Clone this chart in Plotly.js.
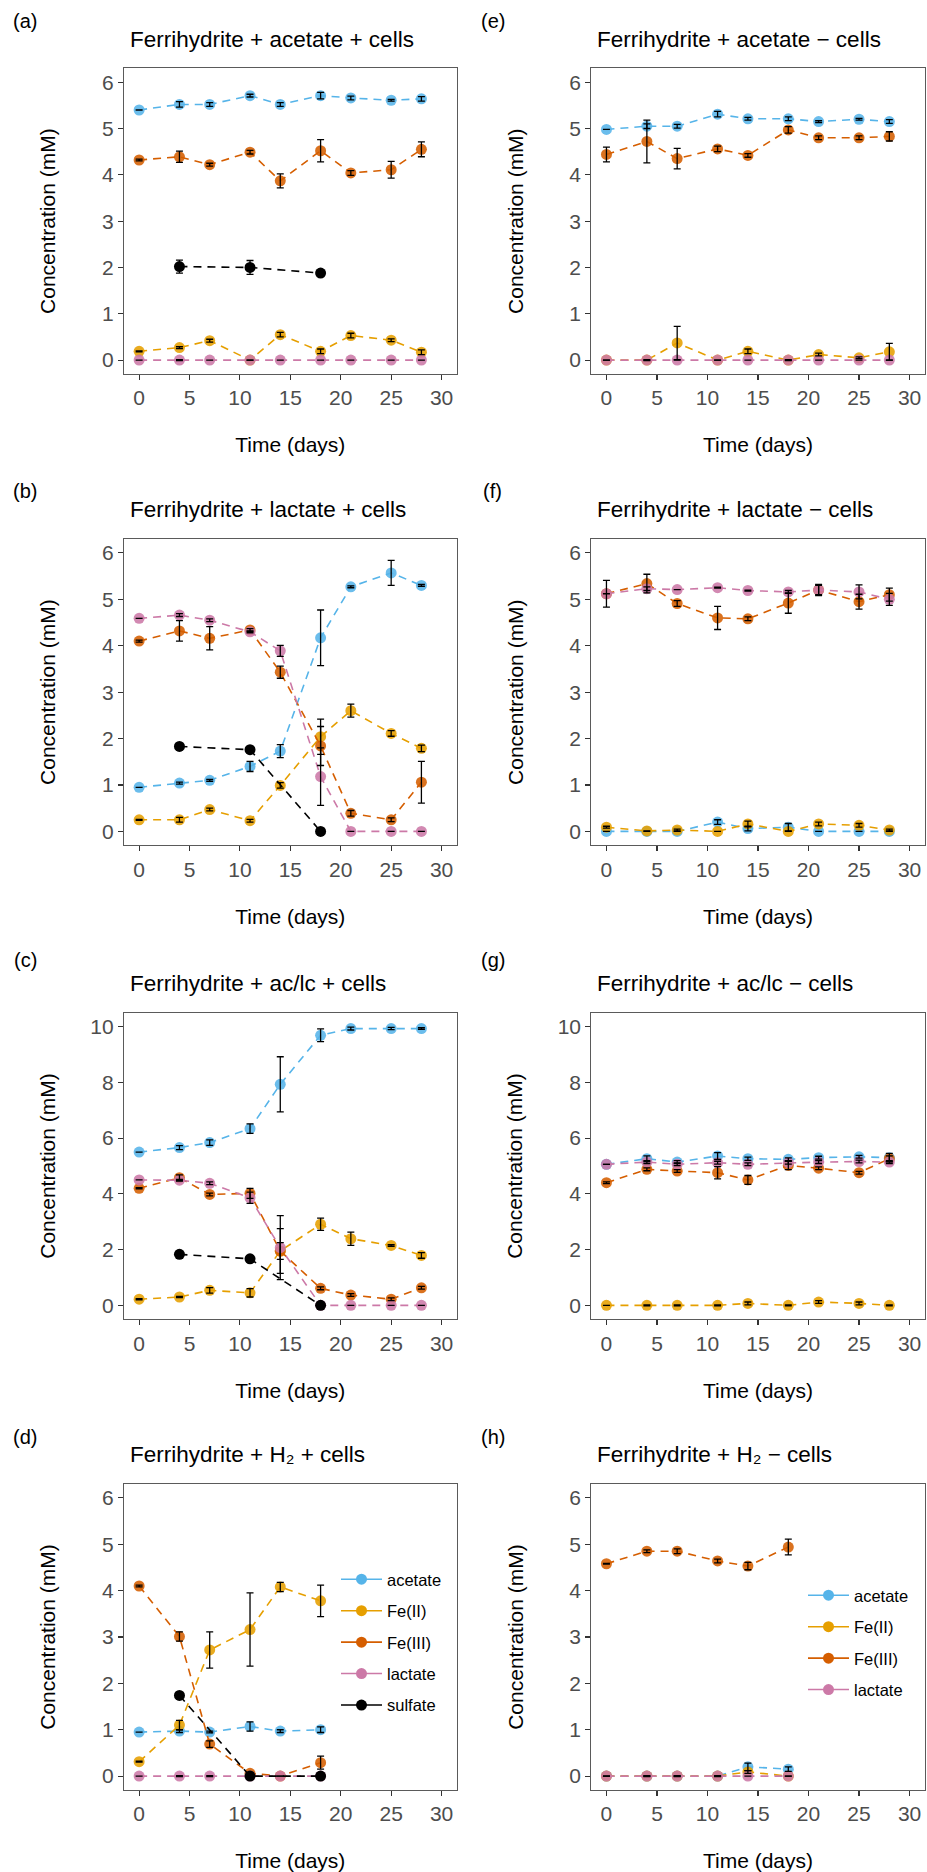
<!DOCTYPE html>
<html><head><meta charset="utf-8">
<script src="https://cdn.plot.ly/plotly-3.0.1.min.js"></script>
<style>body{margin:0;background:#fff}</style>
</head><body><div id="chart" style="width:927px;height:1872px"></div>
<script>
// ---------- data ----------
const days = [0, 4, 7, 11, 14, 18, 21, 25, 28];
const daysH2 = [0, 4, 7, 11, 14, 18];
const daysSulfate = [4, 11, 18];
const speciesNames = ["acetate", "Fe(II)", "Fe(III)", "lactate", "sulfate"];

// (a) Ferrihydrite + acetate + cells
const a_acetate = [5.40, 5.52, 5.52, 5.71, 5.52, 5.71, 5.66, 5.61, 5.64];
const a_acetate_err = [null, 0.06, 0.04, 0.03, 0.04, 0.07, 0.04, 0.02, 0.05];
const a_fe2 = [0.19, 0.27, 0.42, 0.00, 0.55, 0.19, 0.53, 0.43, 0.17];
const a_fe2_err = [0.01, 0.02, 0.03, null, 0.05, 0.05, 0.05, 0.03, 0.05];
const a_fe3 = [4.32, 4.39, 4.22, 4.49, 3.87, 4.52, 4.04, 4.11, 4.55];
const a_fe3_err = [0.02, 0.12, 0.03, 0.04, 0.15, 0.24, 0.05, 0.18, 0.16];
const a_lactate = [0, 0, 0, 0, 0, 0, 0, 0, 0];
const a_lactate_err = [null, 0.01, null, null, null, null, null, null, null];
const a_sulfate = [2.02, 2.00, 1.88];
const a_sulfate_err = [0.14, 0.15, null];

// (b) Ferrihydrite + lactate + cells
const b_acetate = [0.95, 1.04, 1.10, 1.40, 1.73, 4.17, 5.27, 5.57, 5.30];
const b_acetate_err = [null, 0.02, 0.02, 0.11, 0.14, 0.60, 0.02, 0.27, 0.02];
const b_fe2 = [0.25, 0.25, 0.47, 0.23, 0.99, 2.04, 2.60, 2.11, 1.79];
const b_fe2_err = [0.01, 0.05, 0.03, 0.03, 0.06, 0.38, 0.14, 0.06, 0.07];
const b_fe3 = [4.10, 4.32, 4.16, 4.34, 3.43, 1.84, 0.39, 0.25, 1.06];
const b_fe3_err = [0.02, 0.22, 0.25, 0.03, 0.13, 0.42, 0.06, 0.04, 0.45];
const b_lactate = [4.59, 4.66, 4.55, 4.30, 3.89, 1.18, 0, 0, 0];
const b_lactate_err = [null, 0.03, 0.03, 0.02, 0.12, 0.62, null, null, null];
const b_sulfate = [1.83, 1.76, 0];
const b_sulfate_err = [null, null, null];

// (c) Ferrihydrite + ac/lc + cells
const c_acetate = [5.50, 5.66, 5.84, 6.34, 7.93, 9.69, 9.93, 9.93, 9.93];
const c_acetate_err = [null, 0.07, 0.10, 0.17, 0.99, 0.23, 0.05, 0.04, 0.03];
const c_fe2 = [0.22, 0.30, 0.54, 0.45, 1.95, 2.91, 2.39, 2.15, 1.79];
const c_fe2_err = [0.02, 0.02, 0.10, 0.15, 0.30, 0.22, 0.24, 0.03, 0.10];
const c_fe3 = [4.20, 4.58, 3.98, 4.02, 1.95, 0.61, 0.37, 0.22, 0.63];
const c_fe3_err = [0.02, 0.10, 0.05, 0.18, 0.80, 0.05, 0.05, 0.05, 0.05];
const c_lactate = [4.50, 4.49, 4.38, 3.86, 2.07, 0, 0, 0, 0];
const c_lactate_err = [null, 0.03, 0.05, 0.20, 1.15, null, null, null, null];
const c_sulfate = [1.83, 1.67, 0];
const c_sulfate_err = [null, null, null];

// (d) Ferrihydrite + H2 + cells
const d_acetate = [0.95, 0.97, 0.95, 1.07, 0.97, 1.00];
const d_acetate_err = [null, 0.03, 0.02, 0.10, 0.03, 0.06];
const d_fe2 = [0.31, 1.10, 2.72, 3.16, 4.08, 3.78];
const d_fe2_err = [0.01, 0.10, 0.39, 0.79, 0.10, 0.34];
const d_fe3 = [4.10, 3.01, 0.69, 0.06, 0, 0.29];
const d_fe3_err = [0.02, 0.10, 0.07, 0.02, null, 0.14];
const d_lactate = [0, 0, 0, 0, 0, 0];
const d_lactate_err = [null, 0.01, 0.01, null, null, null];
const d_sulfate = [1.74, 0, 0];
const d_sulfate_err = [null, null, null];

// (e) Ferrihydrite + acetate - cells
const e_acetate = [4.98, 5.05, 5.05, 5.31, 5.21, 5.21, 5.15, 5.20, 5.15];
const e_acetate_err = [null, 0.05, 0.04, 0.06, 0.03, 0.04, 0.02, 0.02, 0.04];
const e_fe2 = [0, 0, 0.37, 0, 0.19, 0, 0.12, 0.05, 0.18];
const e_fe2_err = [null, null, 0.36, null, 0.05, null, 0.03, 0.02, 0.18];
const e_fe3 = [4.44, 4.72, 4.35, 4.56, 4.42, 4.97, 4.80, 4.80, 4.83];
const e_fe3_err = [0.16, 0.46, 0.22, 0.06, 0.04, 0.07, 0.04, 0.04, 0.10];
const e_lactate = [0, 0, 0, 0, 0, 0, 0, 0, 0];
const e_lactate_err = [null, 0.01, null, null, null, 0.01, null, null, null];

// (f) Ferrihydrite + lactate - cells
const f_acetate = [0, 0, 0, 0.20, 0.06, 0.09, 0, 0, 0];
const f_acetate_err = [null, null, null, 0.05, 0.05, 0.08, null, null, null];
const f_fe2 = [0.09, 0.01, 0.03, 0, 0.16, 0, 0.16, 0.13, 0.03];
const f_fe2_err = [0.02, null, 0.02, null, 0.06, null, 0.04, 0.04, 0.02];
const f_fe3 = [5.12, 5.34, 4.91, 4.60, 4.58, 4.92, 5.20, 4.95, 5.10];
const f_fe3_err = [null, 0.20, 0.06, 0.25, 0.04, 0.22, 0.12, 0.16, 0.14];
const f_lactate = [5.12, 5.23, 5.21, 5.25, 5.19, 5.16, 5.20, 5.16, 5.00];
const f_lactate_err = [0.29, 0.04, null, 0.01, 0.01, 0.03, 0.10, 0.15, 0.13];

// (g) Ferrihydrite + ac/lc - cells
const g_acetate = [5.06, 5.26, 5.14, 5.36, 5.26, 5.24, 5.30, 5.33, 5.30];
const g_acetate_err = [null, 0.10, 0.05, 0.12, 0.06, 0.05, 0.05, 0.05, 0.15];
const g_fe2 = [0, 0, 0, 0, 0.07, 0, 0.12, 0.07, 0];
const g_fe2_err = [null, 0.02, 0.02, 0.02, 0.05, 0.02, 0.05, 0.05, 0.02];
const g_fe3 = [4.40, 4.88, 4.82, 4.76, 4.50, 5.02, 4.92, 4.76, 5.26];
const g_fe3_err = [0.03, 0.05, 0.05, 0.22, 0.16, 0.15, 0.05, 0.05, 0.10];
const g_lactate = [5.06, 5.14, 5.06, 5.12, 5.06, 5.12, 5.14, 5.16, 5.14];
const g_lactate_err = [null, 0.05, 0.05, 0.05, 0.05, 0.05, 0.05, 0.05, 0.05];

// (h) Ferrihydrite + H2 - cells
const h_acetate = [0, 0, 0, 0, 0.20, 0.15];
const h_acetate_err = [null, null, null, null, 0.08, 0.05];
const h_fe2 = [0, 0, 0, 0, 0.09, 0];
const h_fe2_err = [null, null, null, null, 0.03, null];
const h_fe3 = [4.58, 4.85, 4.85, 4.64, 4.53, 4.94];
const h_fe3_err = [0.01, 0.03, 0.05, 0.04, 0.08, 0.17];
const h_lactate = [0, 0, 0, 0, 0, 0];
const h_lactate_err = [null, 0.01, 0.01, 0.01, null, null];

const panelLabels = ["(a)", "(b)", "(c)", "(d)", "(e)", "(f)", "(g)", "(h)"];
const panelTitles = [
  "Ferrihydrite + acetate + cells",
  "Ferrihydrite + lactate + cells",
  "Ferrihydrite + ac/lc + cells",
  "Ferrihydrite + H\u2082 + cells",
  "Ferrihydrite + acetate \u2212 cells",
  "Ferrihydrite + lactate \u2212 cells",
  "Ferrihydrite + ac/lc \u2212 cells",
  "Ferrihydrite + H\u2082 \u2212 cells"
];
const xTitle = "Time (days)";
const yTitle = "Concentration (mM)";
const xTicks = [0, 5, 10, 15, 20, 25, 30];

// ---------- styling ----------
const colors = {"acetate": "#56B4E9", "Fe(II)": "#E69F00", "Fe(III)": "#D55E00", "lactate": "#CC79A7", "sulfate": "#000000"};
const FONT = "Liberation Sans, Arial, Helvetica, sans-serif";
const W = 927, H = 1872;

// panel geometry in pixels: [left, right, top, bottom]
const colX = [[124, 456.7], [591.3, 924.7]];
const rowY = [[68.3, 374], [539, 845.3], [1012.7, 1319.3], [1484, 1790]];

const panels = [
  {x: days, s: [["acetate", a_acetate, a_acetate_err], ["Fe(II)", a_fe2, a_fe2_err], ["Fe(III)", a_fe3, a_fe3_err], ["lactate", a_lactate, a_lactate_err]], sul: [a_sulfate, a_sulfate_err], ymax: 6},
  {x: days, s: [["acetate", b_acetate, b_acetate_err], ["Fe(II)", b_fe2, b_fe2_err], ["Fe(III)", b_fe3, b_fe3_err], ["lactate", b_lactate, b_lactate_err]], sul: [b_sulfate, b_sulfate_err], ymax: 6},
  {x: days, s: [["acetate", c_acetate, c_acetate_err], ["Fe(II)", c_fe2, c_fe2_err], ["Fe(III)", c_fe3, c_fe3_err], ["lactate", c_lactate, c_lactate_err]], sul: [c_sulfate, c_sulfate_err], ymax: 10},
  {x: daysH2, s: [["acetate", d_acetate, d_acetate_err], ["Fe(II)", d_fe2, d_fe2_err], ["Fe(III)", d_fe3, d_fe3_err], ["lactate", d_lactate, d_lactate_err]], sul: [d_sulfate, d_sulfate_err], ymax: 6},
  {x: days, s: [["acetate", e_acetate, e_acetate_err], ["Fe(II)", e_fe2, e_fe2_err], ["Fe(III)", e_fe3, e_fe3_err], ["lactate", e_lactate, e_lactate_err]], sul: null, ymax: 6},
  {x: days, s: [["acetate", f_acetate, f_acetate_err], ["Fe(II)", f_fe2, f_fe2_err], ["Fe(III)", f_fe3, f_fe3_err], ["lactate", f_lactate, f_lactate_err]], sul: null, ymax: 6},
  {x: days, s: [["acetate", g_acetate, g_acetate_err], ["Fe(II)", g_fe2, g_fe2_err], ["Fe(III)", g_fe3, g_fe3_err], ["lactate", g_lactate, g_lactate_err]], sul: null, ymax: 10},
  {x: daysH2, s: [["acetate", h_acetate, h_acetate_err], ["Fe(II)", h_fe2, h_fe2_err], ["Fe(III)", h_fe3, h_fe3_err], ["lactate", h_lactate, h_lactate_err]], sul: null, ymax: 6}
];

const traces = [];
const layout = {
  width: W, height: H,
  margin: {l: 0, r: 0, t: 0, b: 0},
  paper_bgcolor: "#ffffff", plot_bgcolor: "#ffffff",
  font: {family: FONT, color: "#000"},
  showlegend: true,
  annotations: []
};

panels.forEach((p, i) => {
  const col = i < 4 ? 0 : 1;
  const row = i % 4;
  const [L, R] = colX[col];
  const [T, B] = rowY[row];
  const n = i + 1;
  const xa = "x" + (n === 1 ? "" : n), ya = "y" + (n === 1 ? "" : n);
  const xk = "xaxis" + (n === 1 ? "" : n), yk = "yaxis" + (n === 1 ? "" : n);
  const pad = p.ymax * 0.05;
  const axCommon = {
    showgrid: false, zeroline: false, showline: true, mirror: true,
    linecolor: "#5a5a5a", linewidth: 1.1,
    ticks: "outside", ticklen: 5, tickwidth: 1.1, tickcolor: "#333",
    tickfont: {family: FONT, size: 21, color: "#4d4d4d"},
    fixedrange: true
  };
  layout[xk] = Object.assign({}, axCommon, {
    domain: [L / W, R / W], anchor: ya, range: [-1.5, 31.5],
    tickmode: "array", tickvals: xTicks,
    title: {text: xTitle, font: {family: FONT, size: 21, color: "#000"}, standoff: 29}
  });
  layout[yk] = Object.assign({}, axCommon, {
    domain: [1 - B / H, 1 - T / H], anchor: xa, range: [-pad, p.ymax + pad],
    dtick: p.ymax === 10 ? 2 : 1, tick0: 0,
    title: {text: yTitle, font: {family: FONT, size: 21, color: "#000"}, standoff: p.ymax === 10 ? 29 : 40}
  });

  // series lines + markers
  const all = p.s.map(s => ({name: s[0], x: p.x, y: s[1], e: s[2]}));
  if (p.sul) all.push({name: "sulfate", x: daysSulfate, y: p.sul[0], e: p.sul[1]});
  all.forEach(s => {
    traces.push({
      type: "scatter", mode: "lines+markers", x: s.x, y: s.y, xaxis: xa, yaxis: ya,
      name: s.name, showlegend: false, hoverinfo: "skip",
      line: {color: colors[s.name], width: 1.6, dash: "8px,6px"},
      marker: {color: colors[s.name], size: 11, opacity: s.name === "sulfate" ? 1 : 0.88}
    });
  });
  // error bars on top
  all.forEach(s => {
    traces.push({
      type: "scatter", mode: "markers", x: s.x, y: s.y, xaxis: xa, yaxis: ya,
      name: s.name + " sd", showlegend: false, hoverinfo: "skip",
      marker: {size: 1, opacity: 0},
      error_y: {type: "data", array: s.e, visible: true, color: "#000", thickness: 1.3, width: 3.5}
    });
  });

  // panel label and title
  const lx = col === 0 ? 25 : 492.5;
  const labelY = [20.8, 490.5, 960.5, 1436.5][row];
  const titleY = [39.5, 509.5, 983.5, 1454.5][row];
  layout.annotations.push({
    text: panelLabels[i], xref: "paper", yref: "paper", x: lx / W, y: 1 - labelY / H,
    xanchor: "center", yanchor: "middle", showarrow: false,
    font: {family: FONT, size: 20, color: "#000"}
  });
  layout.annotations.push({
    text: panelTitles[i], xref: "paper", yref: "paper", x: (col === 0 ? 128 : 595) / W, y: 1 - titleY / H,
    xanchor: "left", yanchor: "middle", showarrow: false,
    font: {family: FONT, size: 22.5, color: "#000"}
  });
});

// legends (panels d and h)
const legendSets = [
  {key: "legend", names: speciesNames, x: 336, y: 1562},
  {key: "legend2", names: speciesNames.slice(0, 4), x: 803, y: 1578}
];
legendSets.forEach(ls => {
  layout[ls.key] = {
    x: ls.x / W, y: 1 - ls.y / H, xanchor: "left", yanchor: "top",
    bgcolor: "rgba(0,0,0,0)", borderwidth: 0, itemwidth: 41,
    font: {family: FONT, size: 16.5, color: "#000"},
    traceorder: "grouped", tracegroupgap: 7, itemclick: false, itemdoubleclick: false
  };
  ls.names.forEach(nm => {
    traces.push({
      type: "scatter", mode: "lines+markers", x: [null], y: [null],
      name: nm, legend: ls.key, legendgroup: ls.key + nm, showlegend: true,
      line: {color: colors[nm], width: 1.6},
      marker: {color: colors[nm], size: 11}
    });
  });
});

Plotly.newPlot("chart", traces, layout, {displayModeBar: false, staticPlot: true});
</script>
</body></html>
